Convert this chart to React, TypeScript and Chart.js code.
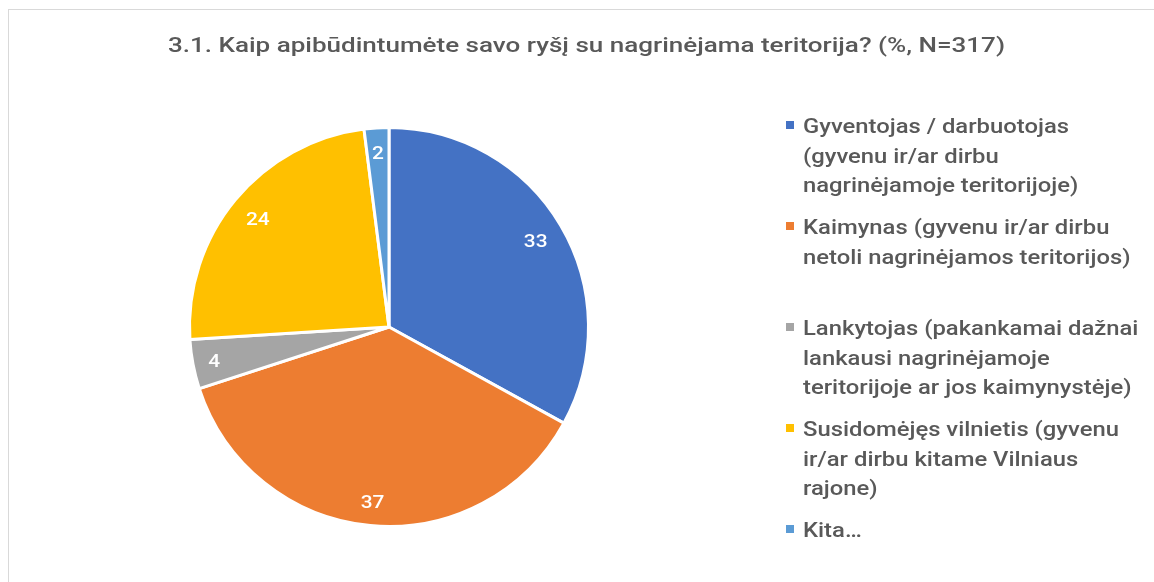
import React, { useEffect, useRef } from "react";
import { Chart, registerables } from "chart.js";

Chart.register(...registerables);

const TITLE = "3.1. Kaip apibūdintumėte savo ryšį su nagrinėjama teritorija? (%, N=317)";

const categories = [
  "Gyventojas / darbuotojas (gyvenu ir/ar dirbu nagrinėjamoje teritorijoje)",
  "Kaimynas (gyvenu ir/ar dirbu netoli nagrinėjamos teritorijos)",
  "Lankytojas (pakankamai dažnai lankausi nagrinėjamoje teritorijoje ar jos kaimynystėje)",
  "Susidomėjęs vilnietis (gyvenu ir/ar dirbu kitame Vilniaus rajone)",
  "Kita…",
];

const legendLines = [
  ["Gyventojas / darbuotojas", "(gyvenu ir/ar dirbu", "nagrinėjamoje teritorijoje)"],
  ["Kaimynas (gyvenu ir/ar dirbu", "netoli nagrinėjamos teritorijos)"],
  ["Lankytojas (pakankamai dažnai", "lankausi nagrinėjamoje", "teritorijoje ar jos kaimynystėje)"],
  ["Susidomėjęs vilnietis (gyvenu", "ir/ar dirbu kitame Vilniaus", "rajone)"],
  ["Kita…"],
];

const values = [33, 37, 4, 24, 2];

const colors = ["#4472C4", "#ED7D31", "#A5A5A5", "#FFC000", "#5B9BD5"];

const FONT = "Roboto, 'Noto Sans', sans-serif";
const TEXT_COLOR = "#595959";

const W = 1154;
const H = 582;

function drawScaled(
  ctx: CanvasRenderingContext2D,
  text: string,
  x: number,
  y: number,
  sx: number,
  align: CanvasTextAlign
) {
  ctx.save();
  ctx.translate(x, y);
  ctx.scale(sx, 1);
  ctx.textAlign = align;
  ctx.fillText(text, 0, 0);
  ctx.restore();
}

const overlayPlugin = {
  id: "overlay",
  afterDraw(chart: any) {
    const ctx = chart.ctx as CanvasRenderingContext2D;
    ctx.save();
    // Title
    ctx.fillStyle = TEXT_COLOR;
    ctx.font = `500 21px ${FONT}`;
    ctx.textBaseline = "alphabetic";
    const tsx = 837 / ctx.measureText(TITLE).width;
    drawScaled(ctx, TITLE, 168, 52, tsx, "left");

    // Data labels
    const meta = chart.getDatasetMeta(0);
    ctx.font = `500 19px ${FONT}`;
    ctx.fillStyle = "#ffffff";
    ctx.textBaseline = "alphabetic";
    meta.data.forEach((arc: any, i: number) => {
      const p = arc.getProps(["x", "y", "startAngle", "endAngle", "outerRadius"], true);
      const mid = (p.startAngle + p.endAngle) / 2;
      const txt = String(chart.data.datasets[0].data[i]);
      const w = ctx.measureText(txt).width * 1.1;
      const h = 19;
      const dx = Math.cos(mid);
      const dy = Math.sin(mid);
      const r = p.outerRadius - 14 - (Math.abs(dx) * w) / 2 - (Math.abs(dy) * h) / 2;
      drawScaled(ctx, txt, p.x + dx * r, p.y + dy * r + 7, 1.1, "center");
    });

    // Legend
    ctx.textBaseline = "alphabetic";
    ctx.font = `500 20px ${FONT}`;
    const lsx = 266 / ctx.measureText(legendLines[0][0]).width;
    legendLines.forEach((lines, i) => {
      const base = 133 + 101 * i;
      ctx.fillStyle = colors[i];
      ctx.fillRect(786, base - 12, 8, 8);
      ctx.fillStyle = TEXT_COLOR;
      lines.forEach((line, j) => {
        drawScaled(ctx, line, 803, base + 29.5 * j, lsx, "left");
      });
    });
    ctx.restore();
  },
};

export default function App() {
  const canvasRef = useRef<HTMLCanvasElement | null>(null);

  useEffect(() => {
    if (!canvasRef.current) return;
    const chart = new Chart(canvasRef.current, {
      type: "pie",
      data: {
        labels: categories,
        datasets: [
          {
            data: values,
            backgroundColor: colors,
            borderColor: "#ffffff",
            borderWidth: 3,
          },
        ],
      },
      options: {
        animation: false,
        responsive: false,
        maintainAspectRatio: false,
        layout: {
          padding: { left: 188, right: W - 590, top: 126, bottom: H - 528 },
        },
        plugins: {
          legend: { display: false },
          tooltip: { enabled: false },
          title: { display: false },
        },
      },
      plugins: [overlayPlugin],
    });
    return () => chart.destroy();
  }, []);

  return (
    <div
      style={{
        position: "fixed",
        left: 0,
        top: 0,
        width: W,
        height: H,
        overflow: "hidden",
        background: "#ffffff",
      }}
    >
      <div
        style={{
          position: "absolute",
          left: 8,
          top: 9,
          width: 1400,
          height: 800,
          border: "1px solid #d9d9d9",
          boxSizing: "border-box",
        }}
      />
      <canvas
        ref={canvasRef}
        width={W}
        height={H}
        style={{ position: "absolute", left: 0, top: 0, width: W, height: H }}
      />
    </div>
  );
}
